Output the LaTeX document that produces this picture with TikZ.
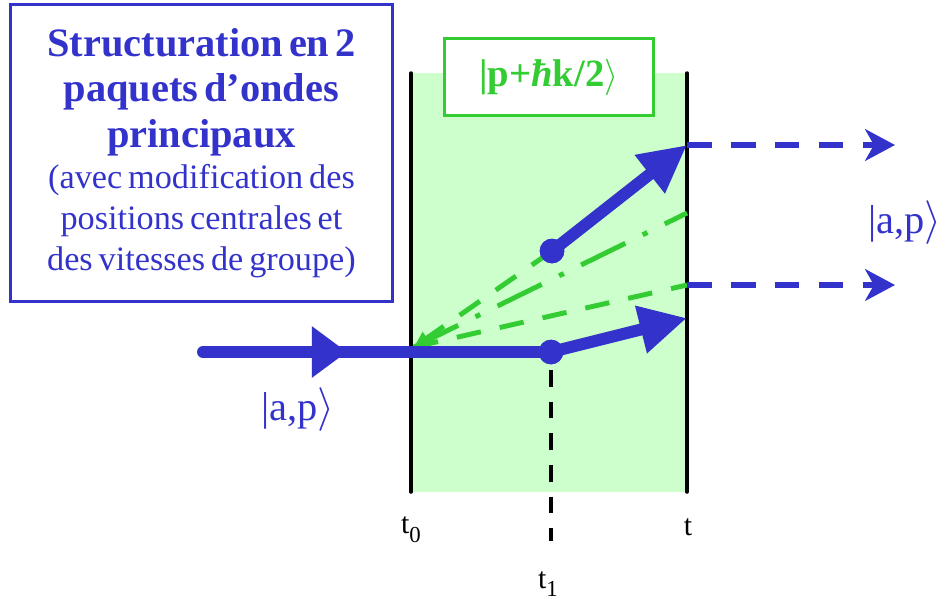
\documentclass[tikz,border=0pt]{standalone}
\usepackage{fontspec}
\setmainfont{Liberation Serif}
\usepackage{amsmath,amssymb}
\usepackage{xcolor}
\usepackage{tikz}
\usetikzlibrary{arrows.meta}
\usetikzlibrary{calc}
\definecolor{kblue}{HTML}{3333CC}
\definecolor{kgreen}{HTML}{33CC33}
\definecolor{klight}{HTML}{CCFFCC}
\newcommand{\ketap}{\textbar a,p$\rangle$}
\newcommand{\ketres}{\textbar p+{\itshape ħ}k/2$\rangle$}
\tikzstyle{pkt} = [circle, fill=kblue, inner sep=0pt, minimum size=14pt]
\tikzstyle{wave} = [draw=kblue, line width=6.8pt]
\tikzstyle{free} = [draw=kblue, line width=3.8pt, dash pattern=on 14pt off 11pt, -{Stealth[length=17pt,width=18pt,inset=5pt]}]
\tikzstyle{cl} = [draw=kgreen, line width=2.8pt, dash pattern=on 14pt off 11pt]
\tikzstyle{ket} = [text=kblue, font=\fontsize{23}{27}\selectfont]
\tikzstyle{tl} = [font=\fontsize{17}{20}\selectfont]
\tikzstyle{resbox} = [draw=kgreen, line width=1.7pt, fill=white, minimum width=119pt, minimum height=44pt, text=kgreen, font=\fontsize{22}{26}\selectfont\bfseries]
\tikzstyle{titlebox} = [draw=kblue, line width=1.7pt, minimum width=217pt, minimum height=169pt, text width=210pt, align=center, text=kblue]

\begin{document}
\begin{tikzpicture}[x=0.02cm,y=-0.02cm]
		\useasboundingbox (0,0) rectangle (945,603);
		% zone d'interaction
		\fill[klight] (411,73) rectangle (687,492);
		\coordinate (l0) at (411,73);
		\coordinate (l1) at (411,492);
		\coordinate (r0) at (687,73);
		\coordinate (r1) at (687,492);
		\foreach \from/\to in {l0/l1,r0/r1}
		\draw[line width=2pt, line cap=round] ($(\from)$) -- ($(\to)$);
		\node[resbox] (res) at (549,77) {\ketres};
		% titre
		\node[titlebox] (title) at (201.5,153)
		{{\fontsize{23}{26}\selectfont\bfseries Structuration en 2\\ paquets d'ondes\\ principaux\par}
		{\fontsize{19.5}{23.3}\selectfont (avec modification des\\ positions centrales et\\ des vitesses de groupe)\par}};
		% points
		\coordinate (a0) at (203,352);
		\coordinate (am) at (347,352);
		\coordinate (o) at (414,347);
		\node[pkt] (d1) at (551,352) {};
		\node[pkt] (d2) at (552,251) {};
		\coordinate (e1) at (687,318);
		\coordinate (e2) at (687,145);
		\coordinate (e3) at (687,285);
		\coordinate (e4) at (687,213);
		\coordinate (f2) at (895,145);
		\coordinate (f3) at (895,285);
		\coordinate (b0) at (551,370);
		\coordinate (b1) at (551,541);
		% t1
		\draw[line width=2.8pt, dash pattern=on 9.5pt off 8.5pt] (b0) -- (b1);
		% classique
		\draw[cl, -{Triangle[length=9pt,width=8pt]}] (d2.center) -- (o);
		\draw[cl] (o) -- (e3);
		\draw[cl, dash pattern=on 28pt off 11pt on 3pt off 11pt] (o) -- (e4);
		% paquets
		\draw[wave, line cap=round] (a0) -- (d1.center);
		\draw[wave, -{Triangle[length=20pt,width=28pt]}] (a0) -- (am);
		\draw[wave, -{Triangle[length=27pt,width=26pt]}] (d1.center) -- (e1);
		\draw[wave, -{Triangle[length=27pt,width=26pt]}] (d2.center) -- (e2);
		\foreach \from/\to in {e2/f2,e3/f3}
		\draw[free] ($(\from)$) -- ($(\to)$);
		\node[pkt] at (d1) {};
		\node[pkt] at (d2) {};
		% etiquettes
		\node[ket] (kin) at (298,410) {\ketap};
		\node[ket] (kout) at (905,223) {\ketap};
		\node[tl] (t0) at (411,530) {t\raisebox{-5pt}{\fontsize{13}{13}\selectfont 0}};
		\node[tl] (t) at (688,527) {t};
		\node[tl] (t1) at (548,584) {t\raisebox{-5pt}{\fontsize{13}{13}\selectfont 1}};
	\end{tikzpicture}
\end{document}
